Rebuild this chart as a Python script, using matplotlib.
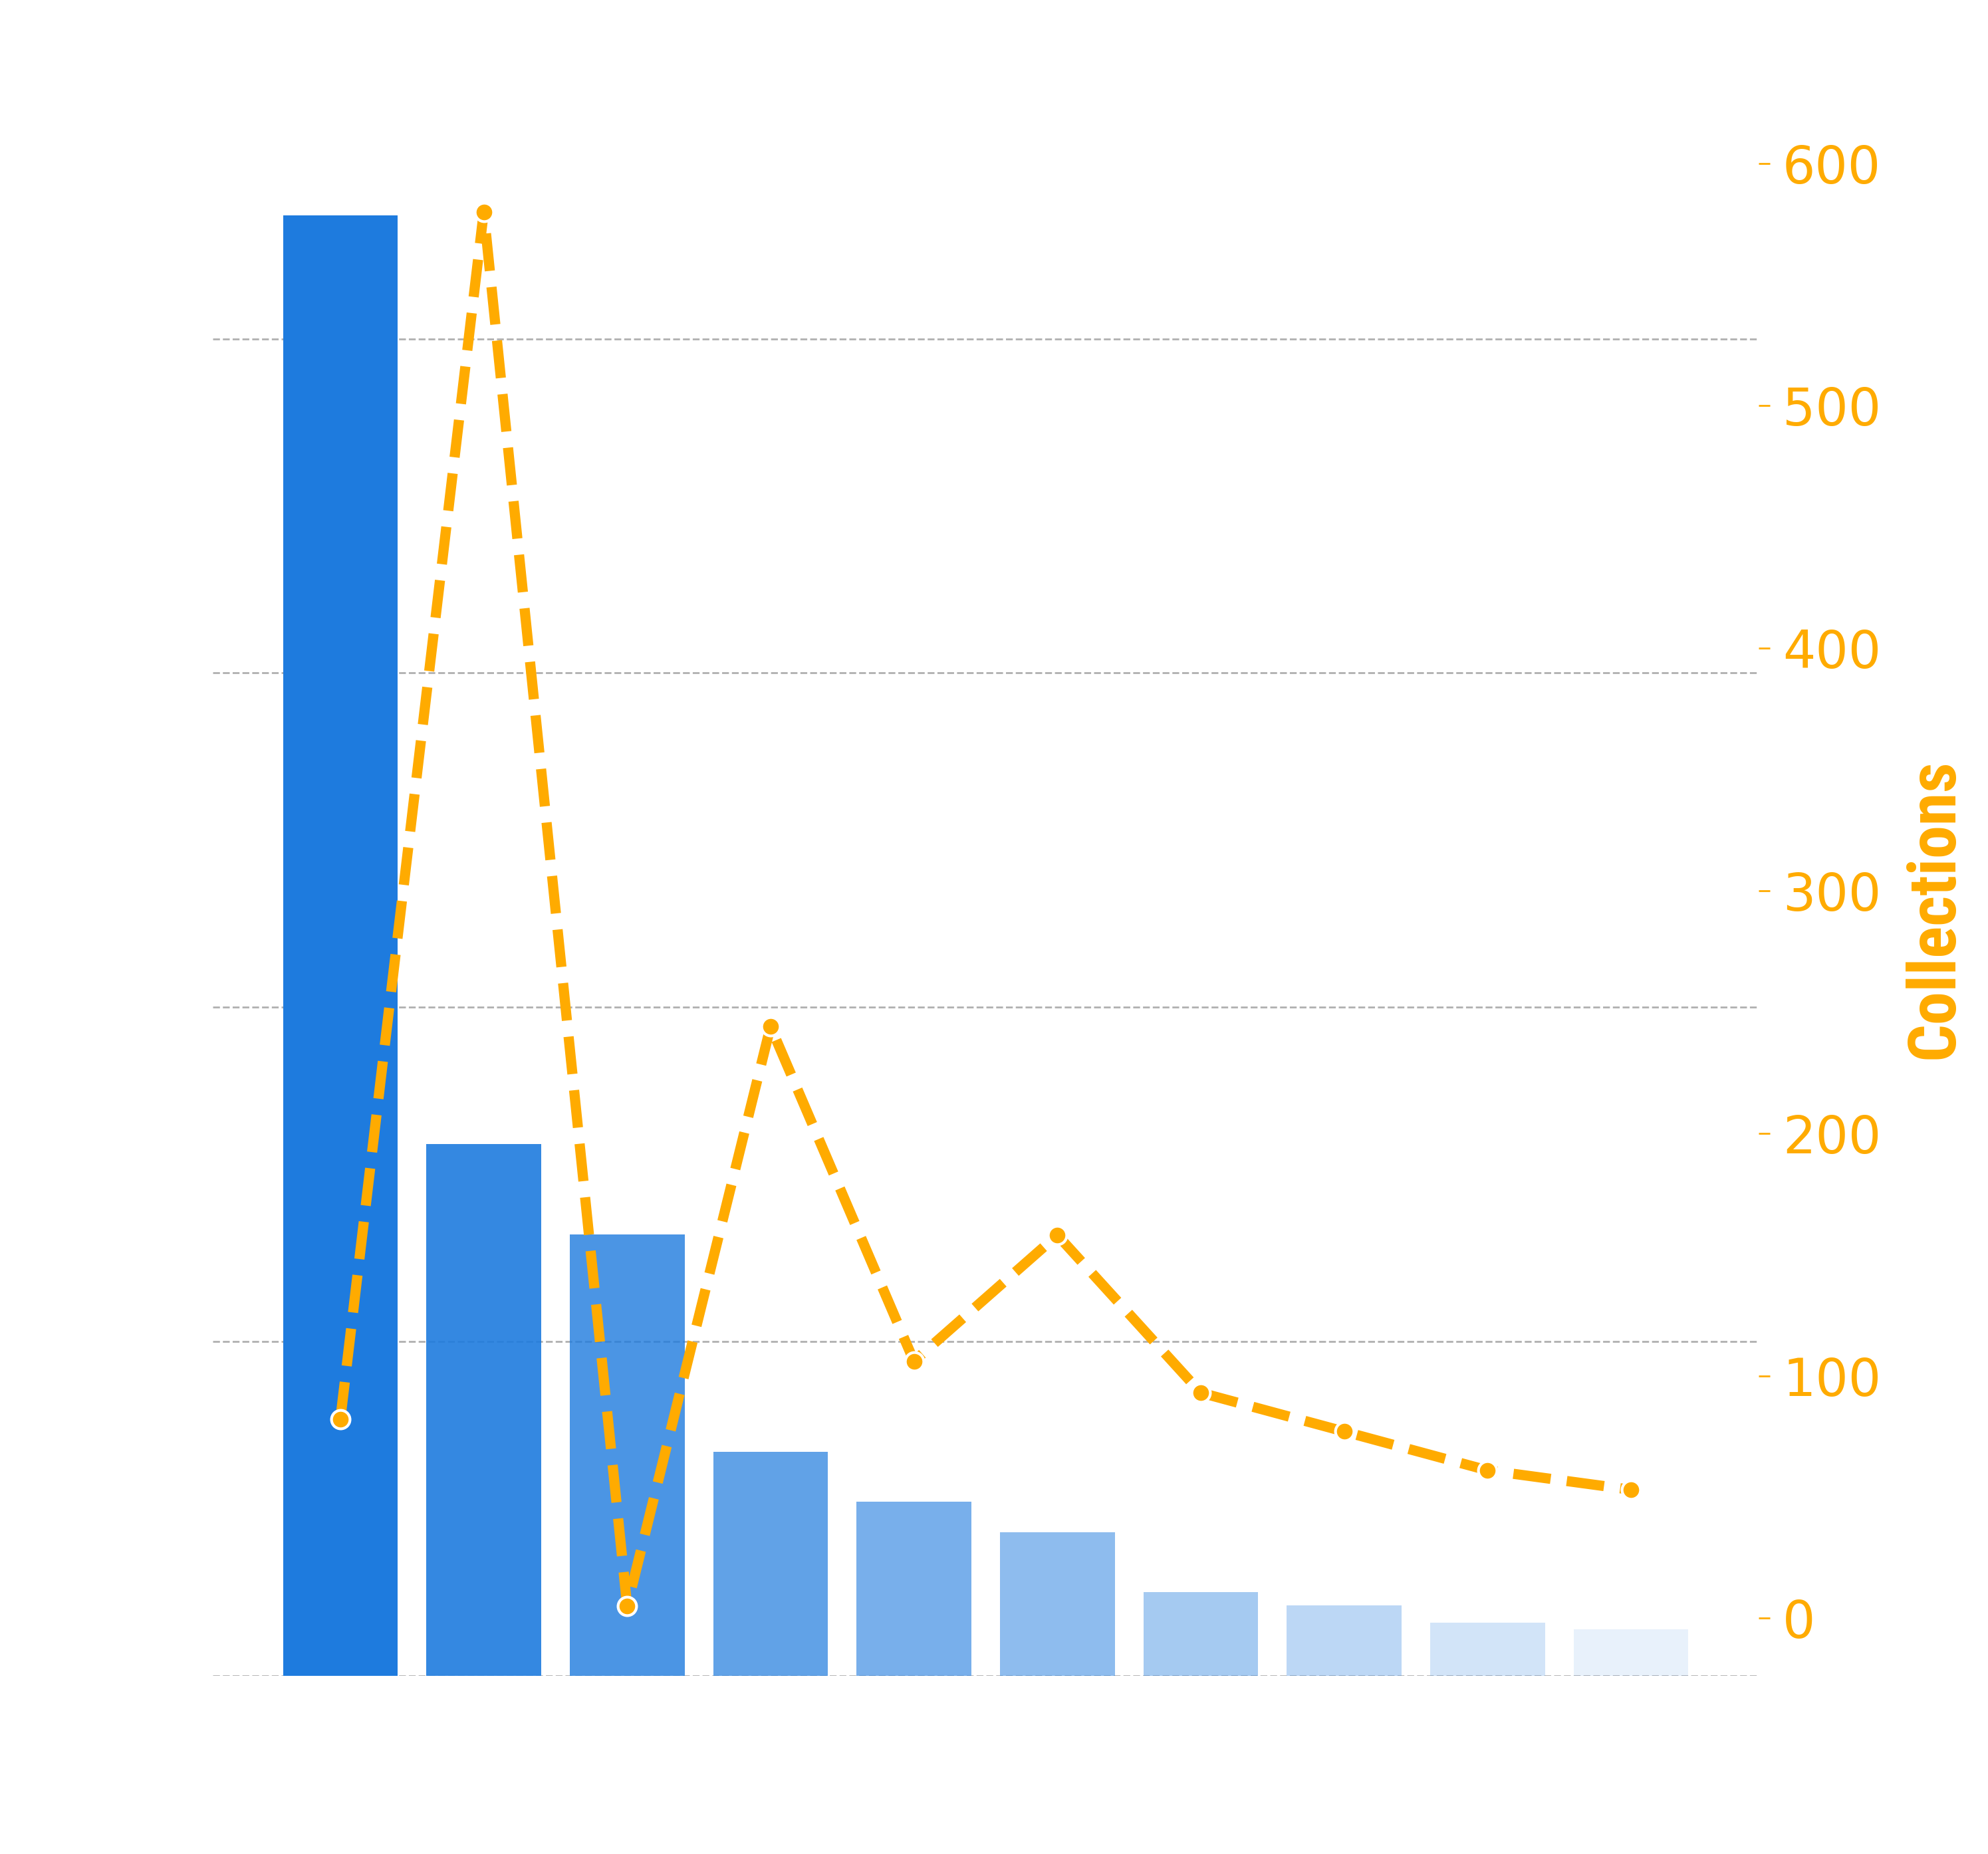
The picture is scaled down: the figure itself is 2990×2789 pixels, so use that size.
import matplotlib.pyplot as plt
import numpy as np
from matplotlib.colors import to_rgba
from matplotlib.ticker import MultipleLocator

# the reference draws these texts in white, so their wording is a guess
categories = ["Site A", "Site B", "Site C", "Site D", "Site E",
              "Site F", "Site G", "Site H", "Site I", "Site J"]
visitors = [4.37, 1.59, 1.32, 0.67, 0.52, 0.43, 0.25, 0.21, 0.16, 0.14]
collections = [82, 580, 5, 244, 106, 158, 93, 77, 61, 53]

BLUE = "#1E7BDE"
ORANGE = "#FFAB00"

fig = plt.figure(figsize=(14.95, 13.945), dpi=200)
ax = fig.add_axes([0.107, 0.0961, 0.7776, 0.8273])

x = np.arange(len(categories))
alphas = np.linspace(1.0, 0.1, len(categories))
colors = [to_rgba(BLUE, a) for a in alphas]
ax.bar(x, visitors, width=0.8, color=colors)

ax.set_axisbelow(True)
ax.yaxis.grid(True, linestyle="--", color="#b0b0b0", linewidth=1)
ax.yaxis.set_major_locator(MultipleLocator(1))
ax.tick_params(axis="y", colors="white", labelsize=22, length=0)
ax.set_xticks(x, categories, color="white", fontsize=18)
ax.tick_params(axis="x", length=0, pad=12)
ax.set_ylabel("Visitors (millions)", color="white", fontsize=24)
ax.set_xlabel("Site", color="white", fontsize=24, labelpad=20)
ax.set_title("Visitors and collections by site", color="white",
             fontsize=30, fontweight="bold", pad=30)
for s in ax.spines.values():
    s.set_visible(False)

ax2 = ax.twinx()
ax2.plot(x, collections, linestyle="--", color=ORANGE, linewidth=5.5,
         marker="o", markersize=10, markeredgecolor="white",
         markeredgewidth=1.5)
ax2.yaxis.set_major_locator(MultipleLocator(100))
ax2.tick_params(axis="y", colors=ORANGE, labelsize=28, length=6, width=1,
                pad=7)
ax2.set_ylabel("Collections", color=ORANGE, fontsize=36, fontweight="bold",
               fontstretch="condensed",
               family=["Roboto Condensed", "Liberation Sans Narrow",
                       "DejaVu Sans"], labelpad=12)
for s in ax2.spines.values():
    s.set_visible(False)

fig.savefig("out.png", dpi=200, facecolor="white")
